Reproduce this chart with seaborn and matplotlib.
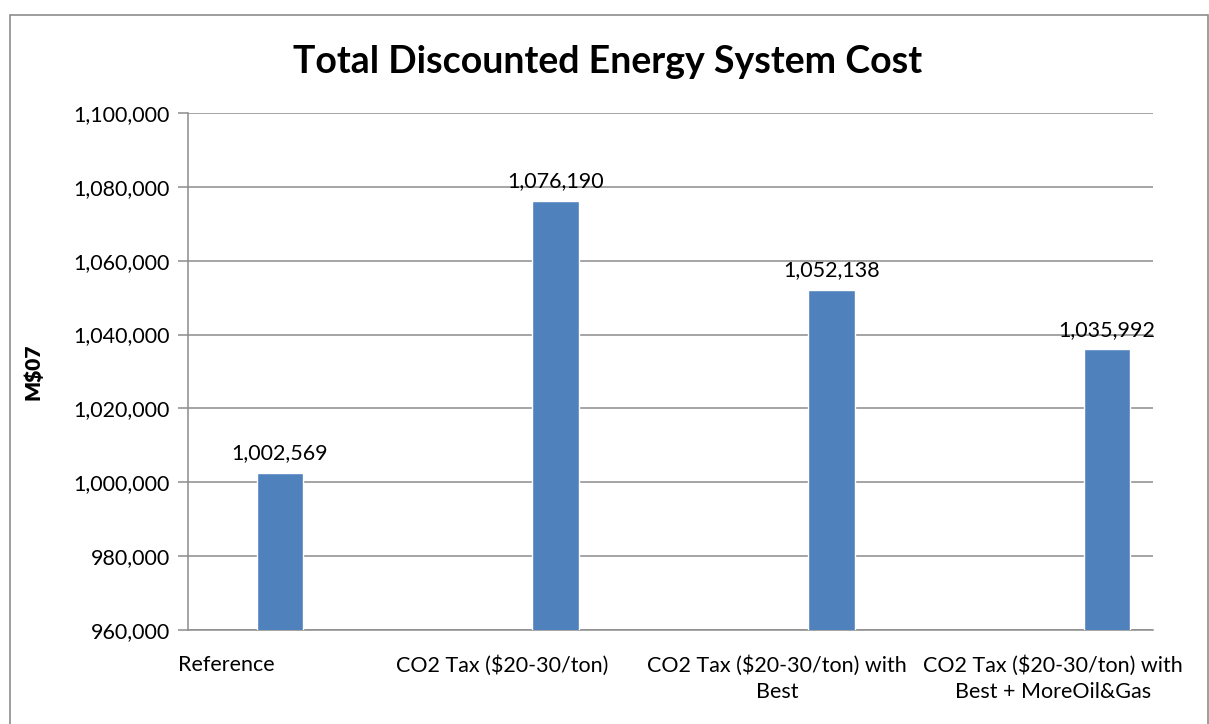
import matplotlib
matplotlib.use("Agg")
import matplotlib.pyplot as plt
import matplotlib.transforms as mtransforms
from matplotlib.patches import Rectangle
from matplotlib.ticker import FuncFormatter, MultipleLocator
import seaborn as sns
import pandas as pd

# chart data
scenarios = [
    "Reference",
    "CO2 Tax ($20-30/ton)",
    "CO2 Tax ($20-30/ton) with\nBest",
    "CO2 Tax ($20-30/ton) with\nBest + MoreOil&Gas",
]
total_cost = [1002569, 1076190, 1052138, 1035992]

BAR_COLOR = "#4F81BD"
GRID_COLOR = "#8C8C8C"

sns.set_theme(style="white")
plt.rcParams["font.family"] = ["Lato", "DejaVu Sans"]
plt.rcParams.update({"text.color": "black", "axes.labelcolor": "black",
                     "xtick.color": "black", "ytick.color": "black"})

df = pd.DataFrame({"scenario": scenarios, "cost": total_cost})

fig = plt.figure(figsize=(12.09, 7.24), dpi=100)
ax = fig.add_axes([188 / 1209, 1 - 630 / 724, (1153 - 188) / 1209, (630 - 113) / 724])

sns.barplot(data=df, x="scenario", y="cost", color=BAR_COLOR, width=0.17,
            saturation=1, ax=ax, zorder=3)

ax.set_ylim(960000, 1100000)
ax.set_xlim(-0.334, 3.167)
ax.yaxis.set_major_locator(MultipleLocator(20000))
ax.yaxis.set_major_formatter(FuncFormatter(lambda v, p: f"{int(v):,}"))
ax.grid(axis="y", color=GRID_COLOR, linewidth=1.1, zorder=0)
ax.grid(axis="x", visible=False)

for side in ["top", "right"]:
    ax.spines[side].set_visible(False)
for side in ["left", "bottom"]:
    ax.spines[side].set_color(GRID_COLOR)
    ax.spines[side].set_linewidth(1.1)

ax.tick_params(axis="y", which="major", left=True, length=7, width=1.1,
               color=GRID_COLOR, labelsize=15.5, pad=6, labelcolor="black")
ax.tick_params(axis="x", bottom=False, labelsize=15.5, pad=12, labelcolor="black")

# shift category labels slightly left, as in the original
offset = mtransforms.ScaledTranslation(-54 / 100, 0, fig.dpi_scale_trans)
for lbl in ax.get_xticklabels():
    lbl.set_transform(lbl.get_transform() + offset)
    lbl.set_linespacing(1.4)

ax.set_xlabel("")
ax.set_ylabel("M$07", fontsize=15, color="black")
ax.yaxis.label.set_fontweight("heavy")
ax.yaxis.set_label_coords(-145 / 965, 0.5)

for i, v in enumerate(total_cost):
    ax.annotate(f"{v:,}", xy=(i, v), xytext=(0, 7), textcoords="offset points",
                ha="center", va="bottom", fontsize=15.5, color="black")

fig.text((296 + 920) / 2 / 1209, 1 - 62 / 724, "Total Discounted Energy System Cost",
         ha="center", va="center", fontsize=27, fontweight="bold", color="black")

# outer chart border
fig.patches.append(Rectangle((10 / 1209, -0.05), (1208 - 10) / 1209, 1.05 - 15 / 724,
                             transform=fig.transFigure, fill=False,
                             edgecolor="#8C8C8C", linewidth=1.2))

fig.savefig("out.png", dpi=100, facecolor="white")
